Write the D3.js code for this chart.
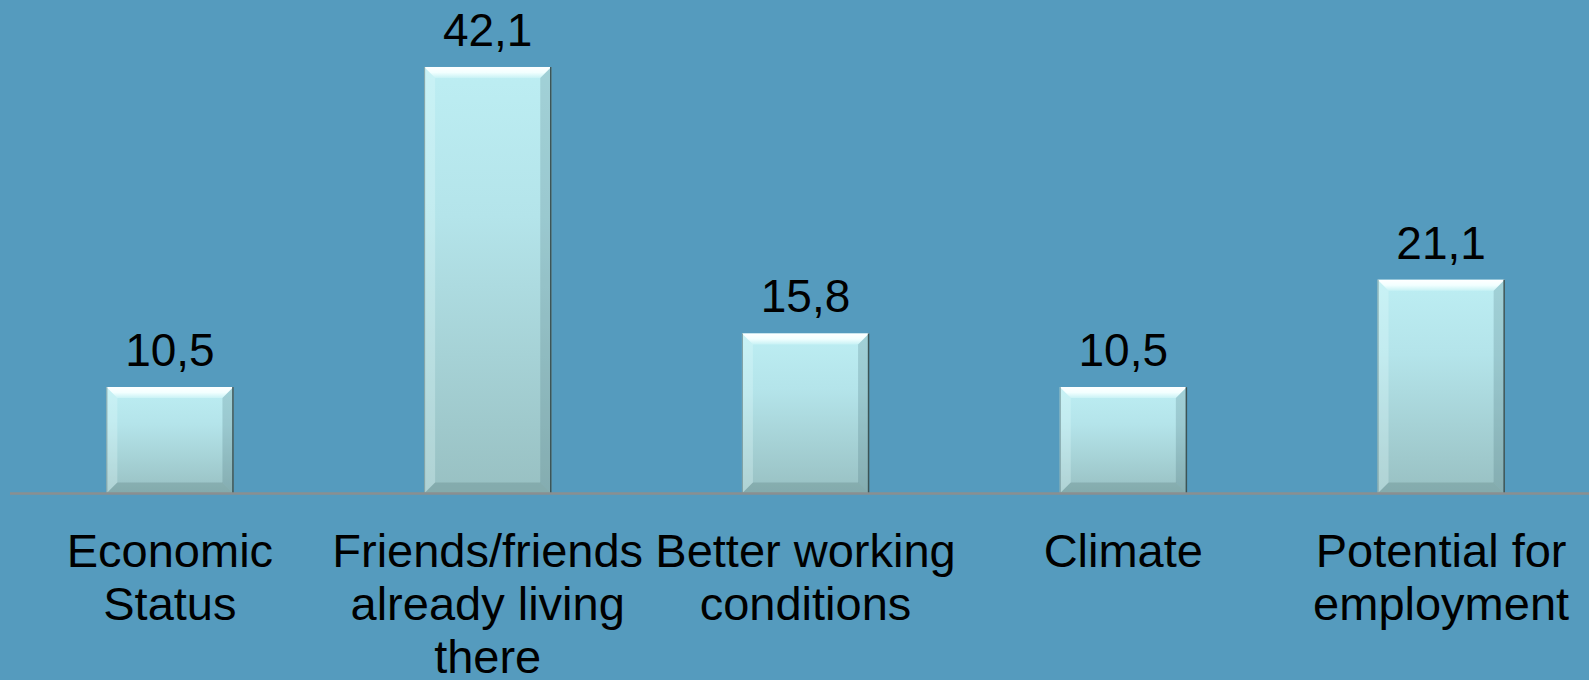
<!DOCTYPE html>
<html>
<head>
<meta charset="utf-8">
<script src="https://d3js.org/d3.v7.min.js"></script>
<style>
  html, body { margin: 0; padding: 0; background: #559bbe; overflow: hidden; }
  text { font-family: "Liberation Sans", Arial, sans-serif; fill: #000; }
</style>
</head>
<body>
<script>

    var categories = ["Economic Status", "Friends/friends already living there", "Better working conditions", "Climate", "Potential for employment"];
    var values = [10.5, 42.1, 15.8, 10.5, 21.1];
    var valueLabels = ["10,5", "42,1", "15,8", "10,5", "21,1"];

    var width = 1589, height = 680;
    var baseY = 493.5;

    var svg = d3.select("body")
    .append("svg")
    .attr("width", width)
    .attr("height", height);

    svg.append("rect")
    .attr("width", width)
    .attr("height", height)
    .attr("fill", "#559bbe");

    var data = categories.map(function(c, i) { return {cat: c, value: values[i], label: valueLabels[i]}; });

    // scales
    var x = d3.scaleBand()
    .domain(categories)
    .range([11, 1600])
    .paddingInner(0.6)
    .paddingOuter(0.3);

    var y = d3.scaleLinear()
    .domain([0, 45])
    .range([baseY, 37.6]);

    // gradients
    var defs = svg.append("defs");
    var face = defs.append("linearGradient")
    .attr("id", "face").attr("x1", 0).attr("y1", 0).attr("x2", 0).attr("y2", 1);
    face.append("stop").attr("offset", "0%").attr("stop-color", "#bdeef3");
    face.append("stop").attr("offset", "35%").attr("stop-color", "#b4e4ea");
    face.append("stop").attr("offset", "100%").attr("stop-color", "#98c0c2");

    var topBev = defs.append("linearGradient")
    .attr("id", "topbev").attr("x1", 0).attr("y1", 0).attr("x2", 0).attr("y2", 1);
    topBev.append("stop").attr("offset", "0%").attr("stop-color", "#ffffff");
    topBev.append("stop").attr("offset", "50%").attr("stop-color", "#f2ffff");
    topBev.append("stop").attr("offset", "100%").attr("stop-color", "#c8f2f5");

    var bw = x.bandwidth();
    var bev = 11;

    var bars = svg.selectAll("g.bar")
    .data(data)
    .enter().append("g")
    .attr("class", "bar")
    .attr("transform", function(d) { return "translate(" + x(d.cat) + "," + y(d.value) + ")"; });

    bars.append("rect")
    .attr("width", bw)
    .attr("height", function(d) { return baseY - y(d.value); })
    .attr("fill", "url(#face)");

    // bevel edges
    bars.append("path")
    .attr("d", function() { return "M0,0 L" + bw + ",0 L" + (bw - bev) + "," + bev + " L" + bev + "," + bev + "Z"; })
    .attr("fill", "url(#topbev)");

    bars.append("path")
    .attr("d", function(d) {
        var h = baseY - y(d.value);
        return "M0,0 L" + bev + "," + bev + " L" + bev + "," + (h - bev) + " L0," + h + "Z";
    })
    .attr("fill", "#e6fbfb")
    .attr("opacity", 0.3);

    bars.append("path")
    .attr("d", function(d) {
        var h = baseY - y(d.value);
        return "M" + bw + ",0 L" + (bw - bev) + "," + bev + " L" + (bw - bev) + "," + (h - bev) + " L" + bw + "," + h + "Z";
    })
    .attr("fill", "#3f6870")
    .attr("opacity", 0.22);

    bars.append("path")
    .attr("d", function(d) {
        var h = baseY - y(d.value);
        return "M0," + h + " L" + bev + "," + (h - bev) + " L" + (bw - bev) + "," + (h - bev) + " L" + bw + "," + h + "Z";
    })
    .attr("fill", "#577a7c")
    .attr("opacity", 0.3);

    // thin outline shadows
    bars.append("line")
    .attr("x1", bw - 0.5).attr("x2", bw - 0.5)
    .attr("y1", 0)
    .attr("y2", function(d) { return baseY - y(d.value); })
    .attr("stroke", "#3c5456")
    .attr("stroke-width", 1.5);

    bars.append("line")
    .attr("x1", 0.5).attr("x2", 0.5)
    .attr("y1", 0)
    .attr("y2", function(d) { return baseY - y(d.value); })
    .attr("stroke", "#7d9fa3")
    .attr("stroke-width", 1);

    // axis line
    svg.append("line")
    .attr("x1", 10).attr("x2", width)
    .attr("y1", baseY).attr("y2", baseY)
    .attr("stroke", "#8a8f91")
    .attr("stroke-width", 2.5);

    // value labels
    svg.selectAll("text.val")
    .data(data)
    .enter().append("text")
    .attr("class", "val")
    .attr("x", function(d) { return x(d.cat) + bw / 2; })
    .attr("y", function(d) { return y(d.value) - 21; })
    .attr("text-anchor", "middle")
    .attr("font-size", "46px")
    .text(function(d) { return d.label; });

    // category labels, wrapped to band step
    var wrapW = x.step() - 6;
    var cats = svg.selectAll("text.cat")
    .data(data)
    .enter().append("text")
    .attr("class", "cat")
    .attr("x", function(d) { return x(d.cat) + bw / 2; })
    .attr("y", 567)
    .attr("text-anchor", "middle")
    .attr("font-size", "47px");

    cats.each(function(d) {
        var t = d3.select(this), cx = x(d.cat) + bw / 2;
        var words = d.cat.split(" "), line = [];
        var tspan = t.append("tspan").attr("x", cx).attr("dy", 0);
        words.forEach(function(w) {
            line.push(w);
            tspan.text(line.join(" "));
            if (tspan.node().getComputedTextLength() > wrapW && line.length > 1) {
                line.pop();
                tspan.text(line.join(" "));
                line = [w];
                tspan = t.append("tspan").attr("x", cx).attr("dy", "53px").text(w);
            }
        });
    });

</script>
</body>
</html>
